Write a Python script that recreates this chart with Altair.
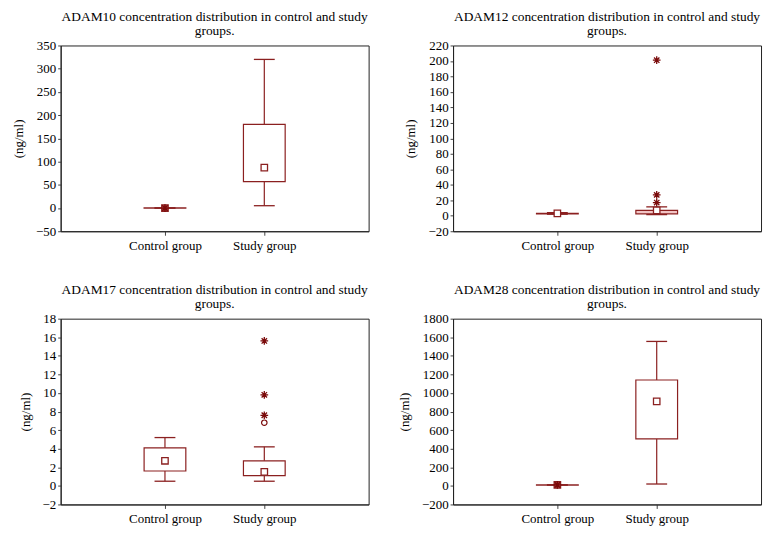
import altair as alt
import pandas as pd

FONT = "Liberation Serif"
DARK = "#8b2020"
STAR_COLOR = "#7a0a0a"
STAR = "M-1,0L1,0M0,-1L0,1M-0.7,-0.7L0.7,0.7M-0.7,0.7L0.7,-0.7"

groups = ["Control group", "Study group"]
positions = [1, 2]

# ADAM10
a10_lo = [0, 5]
a10_q1 = [-0.5, 57]
a10_q3 = [0.5, 180]
a10_hi = [0, 320]
a10_mean = [0, 87]
a10_fill = ["#b04545", "white"]
a10_boxfill = ["white", "white"]
a10_out_pos = [1]
a10_out_val = [0]
a10_out_kind = ["star"]

# ADAM12
a12_lo = [2, 1.5]
a12_q1 = [2.5, 2.5]
a12_q3 = [3.2, 7]
a12_hi = [4, 11.5]
a12_mean = [3, 7]
a12_fill = ["white", "white"]
a12_boxfill = ["#f2c4c4", "#f2c4c4"]
a12_out_pos = [2, 2, 2]
a12_out_val = [201, 27, 17]
a12_out_kind = ["star", "star", "star"]

# ADAM17
a17_lo = [0.5, 0.5]
a17_q1 = [1.6, 1.1]
a17_q3 = [4.1, 2.7]
a17_hi = [5.2, 4.2]
a17_mean = [2.7, 1.5]
a17_fill = ["white", "white"]
a17_boxfill = ["white", "white"]
a17_out_pos = [2, 2, 2, 2]
a17_out_val = [6.8, 7.6, 9.8, 15.6]
a17_out_kind = ["circle", "star", "star", "star"]

# ADAM28
a28_lo = [10, 20]
a28_q1 = [8, 505]
a28_q3 = [12, 1140]
a28_hi = [10, 1555]
a28_mean = [10, 910]
a28_fill = ["#b04545", "white"]
a28_boxfill = ["white", "white"]
a28_out_pos = [1]
a28_out_val = [10]
a28_out_kind = ["star"]


def panel(name, lo, q1, q3, hi, mean, fill, boxfill, opos, oval, okind, ymin, ymax, step):
    box = pd.DataFrame({"pos": positions, "group": groups, "lo": lo, "q1": q1,
                        "q3": q3, "hi": hi, "mean": mean, "fill": fill,
                        "boxfill": boxfill})
    outs = pd.DataFrame({"pos": opos, "value": oval, "kind": okind})
    outs["shape"] = outs["kind"].map({"star": STAR, "circle": "circle"})
    outs["size"] = outs["kind"].map({"star": 60, "circle": 30})
    outs["sw"] = outs["kind"].map({"star": 1.3, "circle": 1.2})

    xaxis = alt.Axis(values=positions, title=None, grid=False,
                     labelExpr="datum.value == 1 ? 'Control group' : 'Study group'",
                     tickSize=4, labelPadding=4)
    xscale = alt.Scale(domain=[0, 3], nice=False, zero=False)
    yscale = alt.Scale(domain=[ymin, ymax], nice=False, zero=False)
    yaxis = alt.Axis(values=list(range(ymin, ymax + 1, step)), title="(ng/ml)",
                     grid=False, tickSize=3, labelPadding=2, titlePadding=10,
                     labelOverlap=False, format="d")

    def X():
        return alt.X("pos:Q", scale=xscale, axis=xaxis)

    def Y(f):
        return alt.Y(f, scale=yscale, axis=yaxis)

    base = alt.Chart(box)
    whisk = base.mark_rule(color=DARK, strokeWidth=1.2).encode(
        x=X(), y=Y("lo:Q"), y2="hi:Q")
    bx = base.mark_bar(size=42, stroke=DARK, strokeWidth=1.2).encode(
        x=X(), y=Y("q1:Q"), y2="q3:Q", fill=alt.Fill("boxfill:N", scale=None))
    caps = base.transform_fold(["lo", "hi"], as_=["k", "v"]).mark_tick(
        orient="horizontal", size=21, thickness=1.3, color=DARK, opacity=1).encode(
        x=X(), y=Y("v:Q"))
    mn = base.mark_point(shape="square", size=42, stroke=DARK, strokeWidth=1.3,
                         opacity=1).encode(
        x=X(), y=Y("mean:Q"), fill=alt.Fill("fill:N", scale=None))
    layers = [whisk, bx, caps, mn]
    if len(outs):
        ol = alt.Chart(outs).mark_point(filled=False, opacity=1, color=STAR_COLOR).encode(
            x=X(), y=Y("value:Q"),
            shape=alt.Shape("shape:N", scale=None),
            size=alt.Size("size:Q", scale=None),
            strokeWidth=alt.StrokeWidth("sw:Q", scale=None))
        layers.append(ol)
    return alt.layer(*layers).properties(
        width=310, height=187,
        title=alt.Title([f"{name} concentration distribution in control and study", "groups."],
                        frame="group", anchor="middle", offset=2))


p10 = panel("ADAM10", a10_lo, a10_q1, a10_q3, a10_hi, a10_mean, a10_fill, a10_boxfill,
            a10_out_pos, a10_out_val, a10_out_kind, -50, 350, 50)
p12 = panel("ADAM12", a12_lo, a12_q1, a12_q3, a12_hi, a12_mean, a12_fill, a12_boxfill,
            a12_out_pos, a12_out_val, a12_out_kind, -20, 220, 20)
p17 = panel("ADAM17", a17_lo, a17_q1, a17_q3, a17_hi, a17_mean, a17_fill, a17_boxfill,
            a17_out_pos, a17_out_val, a17_out_kind, -2, 18, 2)
p28 = panel("ADAM28", a28_lo, a28_q1, a28_q3, a28_hi, a28_mean, a28_fill, a28_boxfill,
            a28_out_pos, a28_out_val, a28_out_kind, -200, 1800, 200)

chart = alt.concat(p10, p12, p17, p28, columns=2,
                   spacing={"row": 88, "column": 85}, bounds="flush").properties(
    padding={"left": 4, "top": 0, "right": 2, "bottom": 2}
).configure(
    font=FONT, background="white"
).configure_view(
    stroke="#222", strokeWidth=1
).configure_axis(
    labelFont=FONT, titleFont=FONT, labelFontSize=13, titleFontSize=13,
    titleFontWeight="normal", labelColor="black", titleColor="black",
    domainColor="#222", tickColor="#444"
).configure_title(
    font=FONT, fontSize=13.5, fontWeight="normal", color="black", lineHeight=14
)

chart.save("out.html", embed_options={"renderer": "svg", "actions": False})
